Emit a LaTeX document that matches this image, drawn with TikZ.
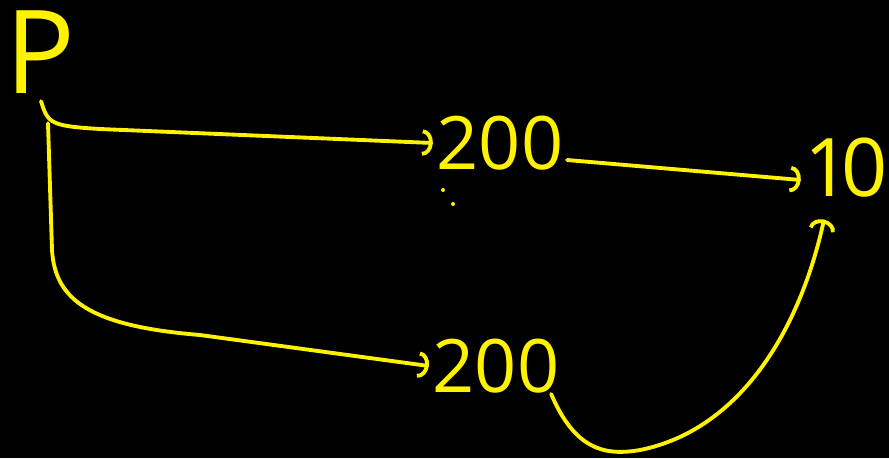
\documentclass[tikz,border=0pt]{standalone}
\usepackage{fontspec}
\setmainfont{Open Sans}
\usepackage{tikz}
\usetikzlibrary{arrows.meta,calc}

\definecolor{caneta}{RGB}{255,242,0}

\begin{document}
\begin{tikzpicture}[x=0.02cm, y=-0.02cm,
    >={Arc Barb[length=6pt,width=15pt]},
    seta/.style={->, line width=2.2pt, caneta, line cap=round, line join=round},
    rotulo/.style={text=caneta, inner sep=2pt}]
  % fundo preto (quadro)
  \fill[black] (0,0) rectangle (889,458);
  \useasboundingbox (0,0) rectangle (889,458);

  % valores escritos
  \node[rotulo, font=\fontsize{66}{66}\selectfont] (P) at (40,52) {P};
  \node[rotulo, font=\fontsize{42}{42}\selectfont] (cima) at (500,143) {200};
  \node[rotulo, font=\fontsize{42}{42}\selectfont] (baixo) at (496,366) {200};
  \node[rotulo, font=\fontsize{46}{46}\selectfont] (dez) at (846,168) {1\kern-.12em0};

  % ramo que sai de P
  \coordinate (ramo) at ($(P.south)+(8,26)$);
  \draw[seta] ($(P.south)+(1,4)$) .. controls (ramo) and (50,126) .. (100,129)
    -- (cima.west);
  \draw[seta] (ramo) -- (52,250) .. controls (55,300) and (90,326) .. (200,335)
    -- (baixo.west);

  % de 200 para 10
  \draw[seta] ($(cima.east)+(0,17)$) -- ($(dez.west)+(0,12)$);
  \draw[seta] ($(baixo.south east)+(-12,-3)$) .. controls (575,450) and (605,456) .. (640,450)
    .. controls (740,430) and (800,330) .. ($(dez.south)+(-22,18)$);

  % pontinhos soltos
  \fill[caneta] (443,190) circle (2);
  \fill[caneta] (453,204) circle (2);
\end{tikzpicture}
\end{document}
